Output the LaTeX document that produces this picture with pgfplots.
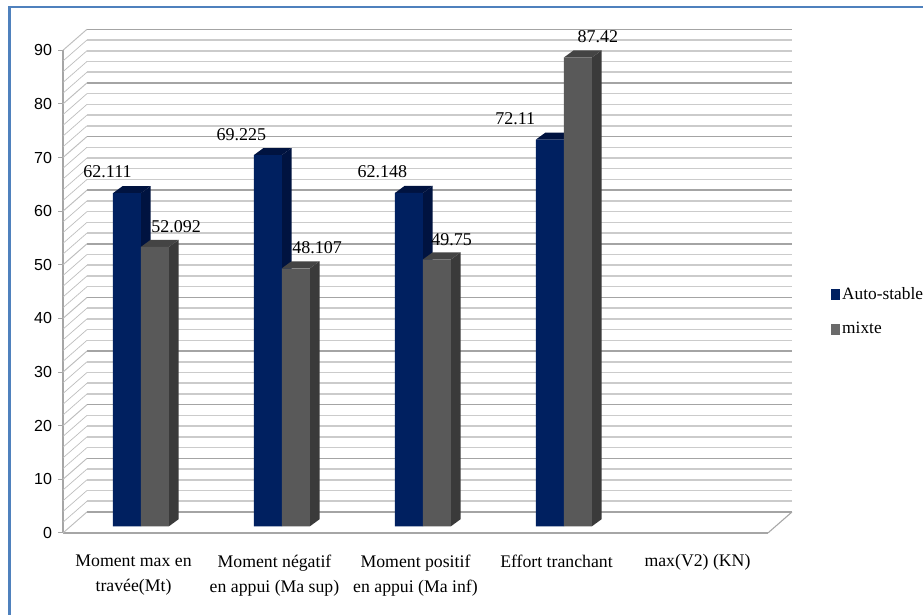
\documentclass[border=0pt]{standalone}
\usepackage{fontspec}
\setmainfont{Liberation Serif}
\newfontfamily\tickfont{Liberation Sans}
\usepackage{pgfplots}
\usepackage{pgfplotstable}
\pgfplotsset{compat=1.18}
\definecolor{barblue}{HTML}{002060}
\definecolor{barblueside}{HTML}{001340}
\definecolor{bargray}{HTML}{595959}
\definecolor{bargrayside}{HTML}{3A3A3A}
\definecolor{bargraytop}{HTML}{444444}
\definecolor{frameblue}{HTML}{4F81BD}
\definecolor{gridmajor}{HTML}{A4A4A4}
\definecolor{gridminor}{HTML}{CBCBCB}
\definecolor{wall}{HTML}{BDBDBD}
\definecolor{axisgray}{HTML}{A6A6A6}
\pgfplotstableread{
cat value
0 62.111
1 69.225
2 62.148
3 72.11
}\autostable
\pgfplotstableread{
cat value
0 52.092
1 48.107
2 49.75
3 87.42
}\mixte
% #1 right edge of the front face (category units), #2 value, #3 width, #4 side colour, #5 top colour
\newcommand{\barfaces}[5]{%
  \addplot[fill=#4,draw=none,forget plot] coordinates {(#1,1.25) (#1+0.0674,2.55) (#1+0.0674,#2+2.55) (#1,#2+1.25)} --cycle;
  \addplot[fill=#5,draw=none,forget plot] coordinates {(#1-#3,#2+1.25) (#1-#3+0.0674,#2+2.55) (#1+0.0674,#2+2.55) (#1,#2+1.25)} --cycle;
}
\begin{document}
\begin{tikzpicture}[x=1pt,y=1pt]
\path[use as bounding box,clip] (0,0) rectangle (692.25,460.5);
\fill[white] (0,0) rectangle (692.25,460.5);
\draw[frameblue,line width=1.9pt] (7,-2) -- (7,455.3) -- (695,455.3);
\begin{axis}[
  at={(47.25pt,60.8pt)}, anchor=south west,
  scale only axis, width=528.75pt, height=362pt,
  xmin=-0.5, xmax=4.5, ymin=0, ymax=90,
  clip=false,
  axis x line=bottom, axis y line=left,
  axis line style={-,draw=axisgray,line width=0.9pt},
  xtick={0,1,2,3,4},
  xticklabels={{Moment max en\\trav\'ee(Mt)},{Moment n\'egatif\\en appui (Ma sup)},{Moment positif\\en appui (Ma inf)},{Effort tranchant},{max(V2) (KN)}},
  xticklabel style={align=center,font=\fontsize{13.3}{18.8}\selectfont,anchor=north,yshift=-9pt},
  x tick style={draw=none},
  major tick length=3.75pt,
  ytick={0,10,...,90},
  y tick style={draw=axisgray,line width=0.7pt},
  tick align=outside,
  yticklabel style={font=\fontsize{12}{14}\tickfont,xshift=-1pt},
  /pgf/number format/assume math mode=true,
  legend style={at={(axis cs:4.945,46.3)},anchor=north west,draw=none,fill=none,
    font=\fontsize{13}{15}\selectfont,row sep=11.5pt,inner sep=0pt,
    /tikz/every even column/.append style={column sep=0pt}},
  legend cell align=left,
]
% walls
\pgfplotsinvokeforeach{2,4,6,8,12,14,16,18,22,24,26,28,32,34,36,38,42,44,46,48,52,54,56,58,62,64,66,68,72,74,76,78,82,84,86,88}{
  \addplot[draw=gridminor,line width=1.15pt,forget plot] coordinates {(-0.33,#1+3.91) (4.67,#1+3.91)};
  \addplot[draw=wall,line width=0.5pt,forget plot] coordinates {(-0.5,#1) (-0.33,#1+3.91)};
}
\pgfplotsinvokeforeach{0,10,20,30,40,50,60,70,80,90}{
  \addplot[draw=gridmajor,line width=1.15pt,forget plot] coordinates {(-0.33,#1+3.91) (4.67,#1+3.91)};
  \addplot[draw=wall,line width=0.7pt,forget plot] coordinates {(-0.5,#1) (-0.33,#1+3.91)};
}
\addplot[draw=axisgray,line width=0.8pt,forget plot] coordinates {(4.5,0) (4.67,3.91)};
% Auto-stable
\barfaces{0.0532}{62.111}{0.1986}{barblueside}{barblueside}
\barfaces{1.0532}{69.225}{0.1986}{barblueside}{barblueside}
\barfaces{2.0532}{62.148}{0.1986}{barblueside}{barblueside}
\barfaces{3.0532}{72.11}{0.1986}{barblueside}{barblueside}
\addplot[ybar,bar width=21pt,bar shift=-10.5pt,fill=barblue,draw=none,xshift=5.6pt,yshift=5pt,forget plot] table[x=cat,y=value] {\autostable};
% mixte
\barfaces{0.2518}{52.092}{0.1986}{bargrayside}{bargraytop}
\barfaces{1.2518}{48.107}{0.1986}{bargrayside}{bargraytop}
\barfaces{2.2518}{49.75}{0.1986}{bargrayside}{bargraytop}
\barfaces{3.2518}{87.42}{0.1986}{bargrayside}{bargraytop}
\addplot[ybar,bar width=21pt,bar shift=10.5pt,fill=bargray,draw=none,xshift=5.6pt,yshift=5pt,forget plot] table[x=cat,y=value] {\mixte};
% value labels
\begin{scope}[every node/.style={font=\fontsize{13.5}{15}\selectfont,inner sep=0pt}]
\node at (axis cs:0,62.111) [xshift=-19.5pt,yshift=21pt] {62.111};
\node at (axis cs:1,69.225) [xshift=-24.8pt,yshift=20pt] {69.225};
\node at (axis cs:2,62.148) [xshift=-24.8pt,yshift=21pt] {62.148};
\node at (axis cs:3,72.11) [xshift=-31pt,yshift=20.5pt] {72.11};
\node at (axis cs:0,52.092) [xshift=32pt,yshift=20.5pt] {52.092};
\node at (axis cs:1,48.107) [xshift=32pt,yshift=20.5pt] {48.107};
\node at (axis cs:2,49.75) [xshift=27pt,yshift=19.5pt] {49.75};
\node at (axis cs:3,87.42) [xshift=31pt,yshift=20.5pt] {87.42};
\end{scope}
\addlegendimage{legend image code/.code={\fill[barblue] (-1pt,-3.75pt) rectangle (5pt,3.75pt);}}
\addlegendentry{Auto-stable}
\addlegendimage{legend image code/.code={\fill[bargray!90!white] (-1pt,-3.75pt) rectangle (5pt,3.75pt);}}
\addlegendentry{mixte}
\end{axis}
\end{tikzpicture}
\end{document}
